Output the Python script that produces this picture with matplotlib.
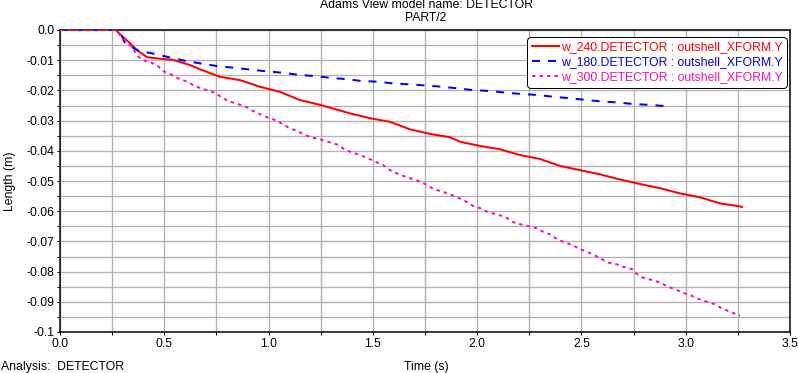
import matplotlib
matplotlib.use("Agg")
import matplotlib.pyplot as plt
from matplotlib.ticker import MultipleLocator, FixedLocator

plt.rcParams['font.family'] = ['Liberation Sans', 'DejaVu Sans']
plt.rcParams['lines.scale_dashes'] = False

# ---- data ----
t240 = [0.0, 0.268, 0.300, 0.336, 0.368, 0.417, 0.465, 0.542, 0.623, 0.671, 0.767, 0.863, 0.959,
        1.055, 1.151, 1.247, 1.390, 1.486, 1.582, 1.678, 1.774, 1.870, 1.918, 2.014, 2.110, 2.205,
        2.301, 2.397, 2.493, 2.589, 2.685, 2.781, 2.877, 2.973, 3.069, 3.164, 3.260, 3.270]
y240 = [0.0, 0.0, -0.0022, -0.0044, -0.0066, -0.0090, -0.0094, -0.0099, -0.0116, -0.0130, -0.0155,
        -0.0166, -0.0188, -0.0205, -0.0232, -0.0248, -0.0276, -0.0292, -0.0304, -0.0329, -0.0344,
        -0.0355, -0.0370, -0.0384, -0.0395, -0.0414, -0.0427, -0.0450, -0.0464, -0.0478, -0.0495,
        -0.0510, -0.0524, -0.0541, -0.0554, -0.0574, -0.0584, -0.0586]

t180 = [0.0, 0.268, 0.297, 0.312, 0.369, 0.384, 0.446, 0.527, 0.599, 0.676, 0.758, 0.834, 0.911,
        0.992, 1.060, 1.151, 1.213, 1.295, 1.376, 1.448, 1.520, 1.597, 1.678, 1.760, 1.832, 1.903,
        1.980, 2.062, 2.143, 2.215, 2.287, 2.364, 2.445, 2.527, 2.603, 2.675, 2.747, 2.829, 2.901, 2.925]
y180 = [0.0, 0.0, -0.0020, -0.0044, -0.0066, -0.0070, -0.0078, -0.0091, -0.0102, -0.0111, -0.0120,
        -0.0125, -0.0131, -0.0137, -0.0141, -0.0149, -0.0152, -0.0158, -0.0163, -0.0169, -0.0171,
        -0.0177, -0.0180, -0.0184, -0.0188, -0.0193, -0.0199, -0.0202, -0.0208, -0.0212, -0.0215,
        -0.0221, -0.0226, -0.0232, -0.0237, -0.0240, -0.0245, -0.0248, -0.0252, -0.0254]

t300 = [0.0, 0.268, 0.288, 0.321, 0.350, 0.369, 0.393, 0.432, 0.465, 0.494, 0.532, 0.566, 0.609,
        0.638, 0.681, 0.719, 0.753, 0.781, 0.815, 0.853, 0.897, 0.925, 0.959, 0.997, 1.040, 1.069,
        1.103, 1.136, 1.175, 1.213, 1.256, 1.285, 1.328, 1.357, 1.390, 1.429, 1.472, 1.510, 1.549,
        1.582, 1.616, 1.645, 1.688, 1.726, 1.760, 1.788, 1.832, 1.870, 1.908, 1.942, 1.980, 2.014,
        2.052, 2.095, 2.134, 2.167, 2.205, 2.244, 2.287, 2.316, 2.359, 2.383, 2.412, 2.455, 2.493,
        2.532, 2.575, 2.627, 2.671, 2.699, 2.743, 2.771, 2.795, 2.839, 2.877, 2.915, 2.958, 2.987,
        3.025, 3.064, 3.102, 3.140, 3.174, 3.212, 3.251, 3.260]
y300 = [0.0, 0.0, -0.0017, -0.0039, -0.0061, -0.0083, -0.0099, -0.0107, -0.0116, -0.0136, -0.0147,
        -0.0160, -0.0171, -0.0182, -0.0195, -0.0201, -0.0212, -0.0226, -0.0237, -0.0245, -0.0256,
        -0.0268, -0.0279, -0.0290, -0.0300, -0.0312, -0.0326, -0.0334, -0.0348, -0.0357, -0.0364,
        -0.0370, -0.0379, -0.0392, -0.0403, -0.0412, -0.0423, -0.0436, -0.0447, -0.0464, -0.0475,
        -0.0483, -0.0493, -0.0502, -0.0513, -0.0526, -0.0535, -0.0544, -0.0555, -0.0566, -0.0582,
        -0.0590, -0.0603, -0.0611, -0.0618, -0.0635, -0.0643, -0.0649, -0.0657, -0.0668, -0.0679,
        -0.0693, -0.0701, -0.0712, -0.0725, -0.0736, -0.0750, -0.0770, -0.0776, -0.0784, -0.0792,
        -0.0811, -0.0820, -0.0828, -0.0836, -0.0850, -0.0861, -0.0870, -0.0879, -0.0891, -0.0900,
        -0.0908, -0.0922, -0.0933, -0.0944, -0.0946]

labels = ["w_240.DETECTOR : outshell_XFORM.Y",
          "w_180.DETECTOR : outshell_XFORM.Y",
          "w_300.DETECTOR : outshell_XFORM.Y"]

xticks = [0.0, 0.5, 1.0, 1.5, 2.0, 2.5, 3.0, 3.5]
xticklabels = ["0.0", "0.5", "1.0", "1.5", "2.0", "2.5", "3.0", "3.5"]
yticks = [0.0, -0.01, -0.02, -0.03, -0.04, -0.05, -0.06, -0.07, -0.08, -0.09, -0.1]
yticklabels = ["0.0", "-0.01", "-0.02", "-0.03", "-0.04", "-0.05", "-0.06", "-0.07",
               "-0.08", "-0.09", "-0.1"]

RED = '#ff0000'
BLUE = '#0000ff'
PINK = '#ff10a0'
PX = 72.0 / 100.0  # points per pixel
FS = 8.8

fig = plt.figure(figsize=(7.98, 3.73), dpi=100)
W, H = 798.0, 373.0
ax = fig.add_axes([60 / W, (H - 332) / H, 730 / W, 302 / H])

ax.plot(t240, y240, color=RED, lw=2 * PX, label=labels[0], zorder=3)
ax.plot(t180, y180, color=BLUE, lw=2 * PX, dashes=(8 * PX, 8 * PX), label=labels[1], zorder=3)
ax.plot(t300, y300, color=PINK, lw=2 * PX, dashes=(3.5 * PX, 4 * PX), label=labels[2], zorder=3)

ax.set_xlim(0, 3.5)
ax.set_ylim(-0.1, 0.0)
ax.xaxis.set_major_locator(FixedLocator(xticks))
ax.set_xticklabels(xticklabels)
ax.xaxis.set_minor_locator(MultipleLocator(0.25))
ax.yaxis.set_major_locator(FixedLocator(yticks))
ax.set_yticklabels(yticklabels)
ax.yaxis.set_minor_locator(MultipleLocator(0.005))

ax.grid(True, which='both', color='#b4b4b4', lw=1.4 * PX, zorder=0)
ax.set_axisbelow(True)
ax.tick_params(which='both', direction='out', length=3 * PX, width=1 * PX, colors='black',
               labelsize=FS, pad=2)
for s in ax.spines.values():
    s.set_color('black')
    s.set_linewidth(1.5 * PX)

fig.text(10 / W, 1 - 181 / H, "Length (m)", rotation=90, ha='center', va='center', fontsize=FS)
fig.text(426 / W, 1 - 5 / H, "Adams View model name: DETECTOR", ha='center', va='center', fontsize=FS)
fig.text(426 / W, 1 - 18 / H, "PART/2", ha='center', va='center', fontsize=FS)
fig.text(426 / W, 1 - 367 / H, "Time (s)", ha='center', va='center', fontsize=FS)
fig.text(1 / W, 1 - 367 / H, "Analysis:  DETECTOR", ha='left', va='center', fontsize=FS)

leg = ax.legend(loc='upper right', bbox_to_anchor=((787 - 60) / 730, (332 - 37) / 302),
                borderaxespad=0, fontsize=FS, labelcolor='linecolor', handlelength=2.2,
                handletextpad=0.2, borderpad=0.35, labelspacing=0.25, fancybox=True,
                framealpha=1, edgecolor='black')
leg.get_frame().set_linewidth(1 * PX)
leg.get_frame().set_boxstyle('round,pad=0,rounding_size=0.3')

fig.savefig("out.png", dpi=100)
